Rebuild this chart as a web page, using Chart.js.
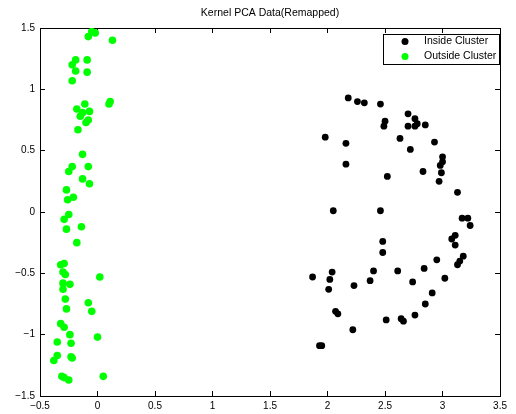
<!DOCTYPE html>
<html>
<head>
<meta charset="utf-8">
<title>Kernel PCA Data(Remapped)</title>
<script src="https://cdn.jsdelivr.net/npm/chart.js@4.4.1/dist/chart.umd.min.js"></script>
<style>
    html, body { margin: 0; padding: 0; background: #fff; }
    #wrap { width: 516px; height: 414px; }
</style>
</head>
<body>
<div id="wrap"><canvas id="graph" width="516" height="414"></canvas></div>
<script>
//--- Data
var xTicks = [-0.5, 0, 0.5, 1, 1.5, 2, 2.5, 3, 3.5];
var yTicks = [-1.5, -1, -0.5, 0, 0.5, 1, 1.5];

var insideX = [2.18, 2.26, 2.32, 2.46, 2.70, 2.76, 2.50, 2.49, 2.70, 2.76, 2.78, 2.85,
    1.98, 2.16, 2.63, 2.93, 2.72, 3.00, 3.00, 2.98, 2.16, 2.83, 2.99, 2.52, 2.97, 3.13,
    2.05, 2.46, 3.17, 3.22, 3.24, 3.11, 3.08, 3.11, 2.48, 2.48, 3.18, 3.15, 3.13, 2.95,
    2.84, 2.40, 2.61, 2.04, 1.87, 2.02, 2.37, 2.74, 3.02, 2.01, 2.23, 2.91, 2.85, 2.07,
    2.09, 2.76, 2.51, 2.64, 2.66, 2.22, 1.93, 1.95];
var insideY = [0.93, 0.90, 0.89, 0.88, 0.80, 0.76, 0.74, 0.70, 0.70, 0.70, 0.72, 0.71,
    0.61, 0.56, 0.60, 0.57, 0.51, 0.45, 0.41, 0.38, 0.39, 0.33, 0.32, 0.29, 0.25, 0.16,
    0.01, 0.01, -0.05, -0.05, -0.11, -0.19, -0.22, -0.27, -0.24, -0.33, -0.36, -0.40, -0.43, -0.39,
    -0.46, -0.48, -0.48, -0.49, -0.53, -0.55, -0.56, -0.57, -0.54, -0.63, -0.60, -0.66, -0.75, -0.81,
    -0.83, -0.84, -0.88, -0.87, -0.89, -0.96, -1.09, -1.09];

var outsideX = [-0.05, -0.02, -0.08, 0.13, -0.19, -0.09, -0.22, -0.19, -0.09, -0.22,
    -0.11, 0.11, 0.10, -0.18, -0.07, -0.13, -0.15, -0.08, -0.10, -0.17,
    -0.13, -0.22, -0.08, -0.25, -0.13, -0.07, -0.27, -0.26, -0.21, -0.25,
    -0.29, -0.14, -0.27, -0.18, -0.32, -0.29, -0.30, -0.28, 0.02, -0.30,
    -0.24, -0.30, -0.28, -0.08, -0.05, -0.27, -0.32, -0.29, -0.24, 0.00,
    -0.35, -0.23, -0.35, -0.38, -0.23, -0.22, -0.31, -0.29, -0.25, 0.05];
var outsideY = [1.47, 1.46, 1.43, 1.40, 1.24, 1.24, 1.20, 1.15, 1.14, 1.07,
    0.88, 0.90, 0.88, 0.84, 0.82, 0.81, 0.78, 0.75, 0.73, 0.67,
    0.47, 0.37, 0.37, 0.33, 0.27, 0.23, 0.18, 0.10, 0.12, -0.02,
    -0.06, -0.12, -0.14, -0.25, -0.43, -0.42, -0.49, -0.51, -0.53, -0.58,
    -0.59, -0.63, -0.71, -0.74, -0.81, -0.79, -0.91, -0.94, -1.00, -1.02,
    -1.06, -1.07, -1.17, -1.21, -1.18, -1.19, -1.34, -1.35, -1.37, -1.34];

var FONT = '"Liberation Sans", Arial, Helvetica, sans-serif';

//--- Internal functions
function toPoints(xs, ys) {
    var pts = [];
    for (var i = 0; i < xs.length; i++) {
        pts.push({ x: xs[i], y: ys[i] });
    }
    return pts;
}

function tickText(v) {
    return v < 0 ? '\u2212' + Math.abs(v) : String(v);
}

function axis(pos, list, lo, hi, size, showLabels) {
    var horizontal = (pos === 'top' || pos === 'bottom');
    return {
        type: 'linear',
        position: pos,
        min: lo,
        max: hi,
        afterBuildTicks: function (scale) {
            scale.ticks = list.map(function (v) { return { value: v }; });
        },
        afterFit: function (scale) {
            if (horizontal) scale.height = size; else scale.width = size;
        },
        grid: {
            drawOnChartArea: false,
            drawTicks: true,
            tickLength: -5,
            color: '#000',
            lineWidth: 1
        },
        border: { display: true, color: '#000', width: 1 },
        ticks: {
            display: showLabels,
            color: '#000',
            padding: horizontal ? 9 : 10,
            maxRotation: 0,
            autoSkip: false,
            font: { family: FONT, size: 10 },
            callback: function (v) { return tickText(v); }
        }
    };
}

// boxed legend in the upper right corner, MATLAB style
var boxLegend = {
    id: 'boxLegend',
    beforeDraw: function (chart) {
        // centre the title over the plot box
        if (chart.titleBlock) {
            chart.titleBlock.left = chart.chartArea.left;
            chart.titleBlock.right = chart.chartArea.right;
        }
    },
    afterDraw: function (chart) {
        var ctx = chart.ctx;
        var left = 383.5, top = 34.5, w = 116, h = 30;
        ctx.save();
        ctx.fillStyle = '#fff';
        ctx.fillRect(left, top, w, h);
        ctx.strokeStyle = '#000';
        ctx.lineWidth = 1;
        ctx.strokeRect(left, top, w, h);
        ctx.font = '10.5px ' + FONT;
        ctx.textBaseline = 'middle';
        chart.data.datasets.forEach(function (ds, i) {
            var cy = top + 7 + i * 15;
            ctx.fillStyle = ds.backgroundColor;
            ctx.beginPath();
            ctx.arc(left + 21.5, cy, 3.5, 0, Math.PI * 2);
            ctx.fill();
            ctx.fillStyle = '#000';
            ctx.fillText(ds.label, left + 40.5, cy);
        });
        ctx.restore();
    }
};

//--- start ....
new Chart(document.getElementById('graph'), {
    type: 'scatter',
    data: {
        datasets: [{
            label: 'Inside Cluster',
            data: toPoints(insideX, insideY),
            backgroundColor: '#000000',
            borderWidth: 0,
            pointRadius: 3.4,
            xAxisID: 'x',
            yAxisID: 'y'
        }, {
            label: 'Outside Cluster',
            data: toPoints(outsideX, outsideY),
            backgroundColor: '#00ff00',
            borderWidth: 0,
            pointRadius: 3.8,
            xAxisID: 'x',
            yAxisID: 'y'
        }]
    },
    options: {
        responsive: false,
        animation: false,
        events: [],
        devicePixelRatio: 1,
        layout: { padding: { left: 0, right: 7, top: 0, bottom: 0 } },
        scales: {
            x: axis('bottom', xTicks, -0.5, 3.5, 18, true),
            y: axis('left', yTicks, -1.5, 1.5, 40, true),
            x2: axis('top', xTicks, -0.5, 3.5, 0, false),
            y2: axis('right', yTicks, -1.5, 1.5, 0, false)
        },
        plugins: {
            legend: { display: false },
            tooltip: { enabled: false },
            title: {
                display: true,
                text: 'Kernel PCA Data(Remapped)',
                color: '#000',
                font: { family: FONT, size: 10.5, weight: 'normal' },
                padding: { top: 7, bottom: 8.4 }
            }
        }
    },
    plugins: [boxLegend]
});
console.log('chart ready');
</script>
</body>
</html>
